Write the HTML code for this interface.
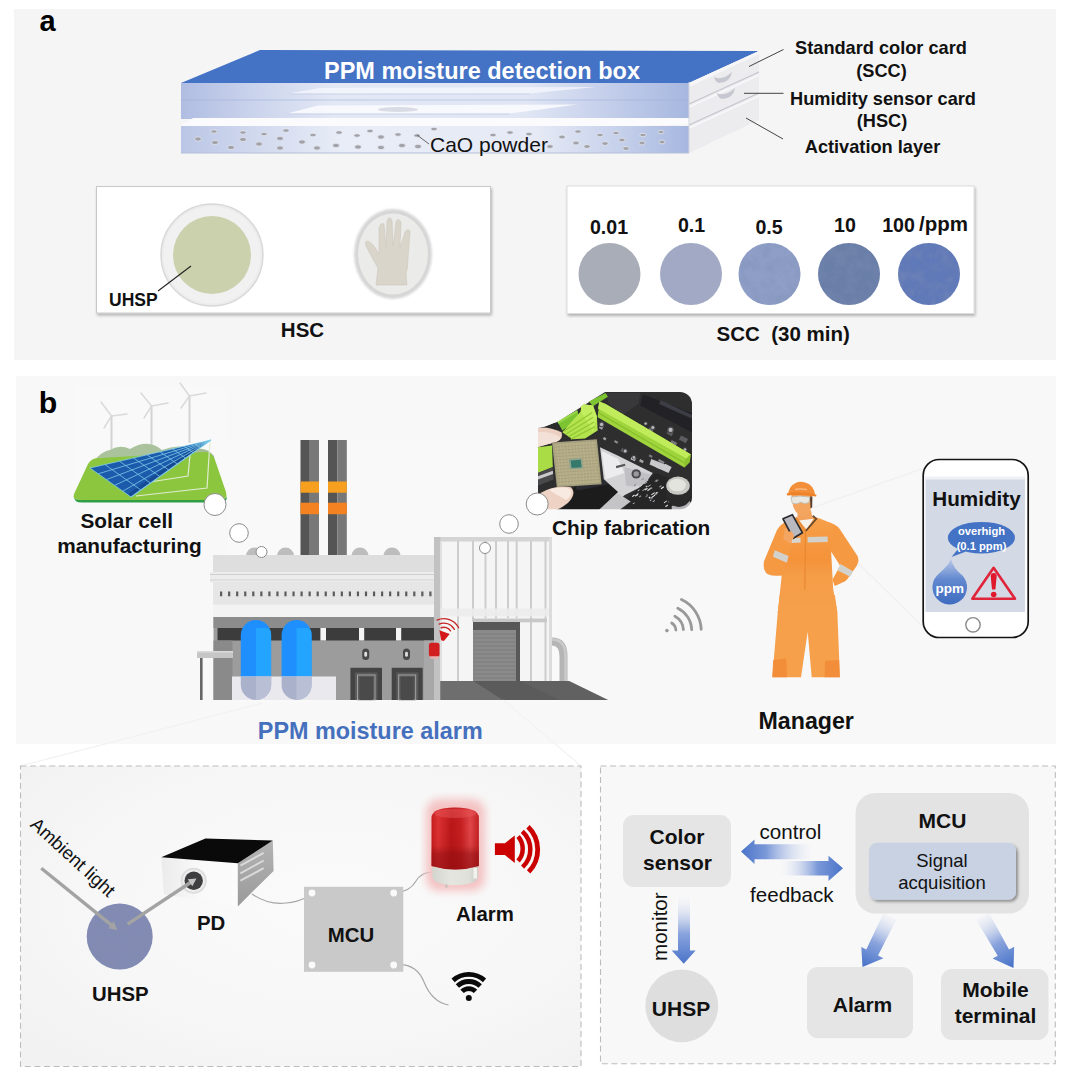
<!DOCTYPE html>
<html><head><meta charset="utf-8">
<style>
html,body{margin:0;padding:0;background:#fff;}
body{width:1080px;height:1081px;overflow:hidden;font-family:"Liberation Sans",sans-serif;}
svg{display:block}
text{font-family:"Liberation Sans",sans-serif;}
.b{font-weight:bold}
</style></head><body>
<svg width="1080" height="1081" viewBox="0 0 1080 1081">
<defs>
<radialGradient id="pbg" cx="50%" cy="50%" r="75%"><stop offset="0" stop-color="#fafafa"/><stop offset="1" stop-color="#efefef"/></radialGradient>
<linearGradient id="boxfront" x1="0" x2="1" y1="0" y2="0"><stop offset="0" stop-color="#b0bde2"/><stop offset="0.14" stop-color="#cad3ec"/><stop offset="0.3" stop-color="#e3e8f5"/><stop offset="0.68" stop-color="#e0e6f4"/><stop offset="0.85" stop-color="#c2cdea"/><stop offset="1" stop-color="#a6b7df"/></linearGradient>
<linearGradient id="boxlow" x1="0" x2="1" y1="0" y2="0"><stop offset="0" stop-color="#bac6e6"/><stop offset="0.14" stop-color="#d0d8ee"/><stop offset="0.32" stop-color="#e9edf7"/><stop offset="0.7" stop-color="#e6eaf6"/><stop offset="0.87" stop-color="#c4cfea"/><stop offset="1" stop-color="#a6b7df"/></linearGradient>
<filter id="sh" x="-5%" y="-5%" width="110%" height="115%"><feGaussianBlur in="SourceAlpha" stdDeviation="1.5"/><feOffset dx="1.2" dy="1.5"/><feComponentTransfer><feFuncA type="linear" slope="0.28"/></feComponentTransfer><feMerge><feMergeNode/><feMergeNode in="SourceGraphic"/></feMerge></filter>
<filter id="tex" x="0" y="0" width="100%" height="100%"><feTurbulence type="fractalNoise" baseFrequency="0.085" numOctaves="3" seed="3" result="n"/><feColorMatrix in="n" type="matrix" values="0 0 0 0 0.2  0 0 0 0 0.27  0 0 0 0 0.45  0 0 0 0.9 -0.36" result="d"/><feComposite in="d" in2="SourceGraphic" operator="in" result="dc"/><feMerge><feMergeNode in="SourceGraphic"/><feMergeNode in="dc"/></feMerge></filter>
<filter id="blur05"><feGaussianBlur stdDeviation="0.55"/></filter>
<filter id="blur1"><feGaussianBlur stdDeviation="1"/></filter>
<filter id="blur2"><feGaussianBlur stdDeviation="2.2"/></filter>
<filter id="blur4"><feGaussianBlur stdDeviation="4"/></filter>
</defs>

<!-- PANEL BACKGROUNDS -->
<rect x="14" y="9" width="1042" height="351" fill="#f5f5f5"/>
<rect x="16" y="376" width="1040" height="368" fill="#f8f8f8"/>
<!--PA_START--><g id="panelA">
<text x="39.5" y="31" class="b" font-size="29">a</text>
<!-- detection box -->
<polygon points="181,83 260,50 759,51 689,83" fill="#4472c4"/>
<rect x="181" y="83" width="508" height="36" fill="url(#boxfront)"/>
<line x1="181" y1="100" x2="689" y2="100" stroke="#9fb0d8" stroke-width="0.8" opacity="0.7"/>
<!-- inner trays -->
<polygon points="288.500,93.500 320,88 596,87 530,93.500" fill="#f8f9fd" opacity="0.700"/>
<polygon points="287,113.500 318,105.500 578,104.500 510,113.500" fill="#fafbfe" opacity="0.850"/>
<line x1="289" y1="94" x2="530" y2="94" stroke="#c3cbe2" stroke-width="0.700"/>
<line x1="287" y1="114" x2="510" y2="114" stroke="#c3cbe2" stroke-width="0.700"/>
<ellipse cx="398" cy="109.5" rx="20" ry="2.6" fill="#d9dce4"/>
<!-- white lid of activation layer -->
<polygon points="181,126 193,118 689,118 689,124 640,126" fill="#fbfbfd"/>
<rect x="181" y="126" width="508" height="27" fill="url(#boxlow)"/>
<line x1="181" y1="153" x2="689" y2="153" stroke="#b5bfd9" stroke-width="1"/>
<!-- powder dots -->
<g fill="#a2a3aa" stroke="#f2f4fa" stroke-width="0.900" stroke-opacity="0.700">
<ellipse cx="198" cy="139" rx="3.4" ry="2.15"/><ellipse cx="214" cy="131.500" rx="3.2" ry="1.75"/><ellipse cx="215" cy="142.500" rx="3.4" ry="2.15"/><ellipse cx="231" cy="147.500" rx="3.4" ry="2.15"/><ellipse cx="243" cy="132.500" rx="3.2" ry="1.75"/><ellipse cx="243" cy="139.500" rx="3.4" ry="2.15"/><ellipse cx="259" cy="144" rx="3.4" ry="2.15"/><ellipse cx="264" cy="134" rx="3.2" ry="1.75"/><ellipse cx="280" cy="138.500" rx="3.4" ry="2.15"/><ellipse cx="280" cy="148" rx="3.4" ry="2.15"/><ellipse cx="286" cy="130.500" rx="3.2" ry="1.75"/><ellipse cx="302" cy="142" rx="3.4" ry="2.15"/><ellipse cx="313" cy="135" rx="3.2" ry="1.75"/><ellipse cx="317" cy="148" rx="3.4" ry="2.15"/><ellipse cx="336" cy="145.500" rx="3.4" ry="2.15"/><ellipse cx="339" cy="132.500" rx="3.2" ry="1.75"/><ellipse cx="357" cy="135.500" rx="3.2" ry="1.75"/><ellipse cx="358" cy="147" rx="3.4" ry="2.15"/><ellipse cx="370" cy="131" rx="3.2" ry="1.75"/><ellipse cx="381" cy="137" rx="3.4" ry="2.15"/><ellipse cx="381" cy="147.500" rx="3.4" ry="2.15"/><ellipse cx="398" cy="134.500" rx="3.2" ry="1.75"/><ellipse cx="402" cy="145.500" rx="3.4" ry="2.15"/><ellipse cx="417" cy="135.500" rx="3.2" ry="1.75"/><ellipse cx="418" cy="146.500" rx="3.4" ry="2.15"/><ellipse cx="434" cy="129" rx="3.2" ry="1.75"/>
<ellipse cx="493" cy="135" rx="3.2" ry="1.75"/><ellipse cx="510" cy="132.500" rx="3.2" ry="1.75"/><ellipse cx="529" cy="134" rx="3.2" ry="1.75"/><ellipse cx="550" cy="146.500" rx="3.2" ry="1.95"/><ellipse cx="562" cy="137" rx="3.2" ry="1.95"/><ellipse cx="578" cy="131.500" rx="3.2" ry="1.75"/><ellipse cx="576" cy="143" rx="3.2" ry="1.95"/><ellipse cx="587" cy="146.500" rx="3.2" ry="1.95"/><ellipse cx="600" cy="135" rx="3.2" ry="1.75"/><ellipse cx="605" cy="143.500" rx="3.2" ry="1.95"/><ellipse cx="616" cy="133" rx="3.2" ry="1.75"/><ellipse cx="622" cy="140" rx="3.2" ry="1.95"/><ellipse cx="626" cy="148.500" rx="3.2" ry="1.95"/><ellipse cx="643" cy="135" rx="3.2" ry="1.75"/><ellipse cx="642" cy="143" rx="3.2" ry="1.95"/><ellipse cx="661" cy="132" rx="3.0" ry="1.75"/><ellipse cx="662" cy="142" rx="3.0" ry="1.95"/>
</g>
<!-- right side face -->
<polygon points="689,83 759,51 759,120 689,153" fill="#ececef"/>
<polygon points="689,83 759,51 759,54 689,87" fill="#f6f6f8"/>
<line x1="689" y1="104" x2="759" y2="72" stroke="#c4c4cc" stroke-width="1.2"/>
<line x1="689" y1="107" x2="759" y2="75" stroke="#f8f8fa" stroke-width="1.6"/>
<line x1="689" y1="125" x2="759" y2="93" stroke="#c4c4cc" stroke-width="1.2"/>
<line x1="689" y1="128" x2="759" y2="96" stroke="#f8f8fa" stroke-width="1.6"/>
<line x1="689" y1="82" x2="689" y2="153" stroke="#d4d6de" stroke-width="1"/>
<path d="M714,77 q8,4 18,-5 q-2,11 -13,11 q-4,-1 -5,-6z" fill="#c6c7d0"/>
<path d="M717,93 q8,4 18,-5 q-2,11 -13,11 q-4,-1 -5,-6z" fill="#c6c7d0"/>
<!-- title -->
<text x="482" y="79" class="b" font-size="23.5" fill="#fff" text-anchor="middle">PPM moisture detection box</text>
<line x1="417" y1="135" x2="429" y2="144" stroke="#555" stroke-width="0.9"/>
<text x="430" y="152" font-size="21" fill="#111">CaO powder</text>
<!-- labels right -->
<line x1="749" y1="66.500" x2="783.500" y2="49.500" stroke="#444" stroke-width="1"/>
<line x1="744" y1="93.300" x2="783.500" y2="93.300" stroke="#444" stroke-width="1"/>
<line x1="746" y1="118" x2="783" y2="139" stroke="#444" stroke-width="1"/>
<g class="b" font-size="18.2" text-anchor="middle" fill="#111">
<text x="881" y="54">Standard color card</text>
<text x="881.5" y="76.5">(SCC)</text>
<text x="883" y="105">Humidity sensor card</text>
<text x="882" y="127">(HSC)</text>
<text x="872.5" y="152.500">Activation layer</text>
</g>
<!-- HSC card -->
<rect x="96.500" y="186.500" width="394" height="126.500" fill="#fff" stroke="#c9c9c9" stroke-width="1" filter="url(#sh)"/>
<circle cx="212" cy="255" r="51" fill="#ececec" stroke="#d9d9d9" stroke-width="1.500" filter="url(#blur05)"/>
<circle cx="212" cy="255" r="48.500" fill="#f1f1f2"/>
<circle cx="212" cy="255" r="39" fill="#cad1ac"/>
<ellipse cx="393" cy="254" rx="39" ry="45" fill="#d6d6d6" filter="url(#blur1)"/>
<ellipse cx="393" cy="254" rx="35" ry="40.500" fill="#ebebea" filter="url(#blur05)"/>
<!-- glove -->
<path d="M376,285 L378,268 Q372,258 366,246 Q364,241 368,241 Q373,243 379,254 L379,229 Q380,222 384,224 L386,247 L387,221 Q389,215 392,220 L393,246 L396,222 Q398,217 401,222 L400,248 L405,232 Q407,228 410,231 L408,258 Q408,268 406,274 L407,285 Z" fill="#d9d5ca" stroke="#cdc8bc" stroke-width="0.600"/>
<line x1="158" y1="291" x2="191" y2="266" stroke="#222" stroke-width="1.1"/>
<text x="109" y="306" class="b" font-size="17.5" fill="#111">UHSP</text>
<text x="302.500" y="337" class="b" font-size="20.500" fill="#111" text-anchor="middle">HSC</text>
<!-- SCC card -->
<rect x="567" y="186" width="407" height="127.500" fill="#fff" stroke="#dcdcdc" stroke-width="1" filter="url(#sh)"/>
<circle cx="609.500" cy="274" r="31" fill="#a8adb8"/>
<circle cx="691" cy="274" r="31" fill="#a1a9c5"/>
<circle cx="769.500" cy="274" r="31" fill="#8e9ec6" filter="url(#tex)"/>
<circle cx="849" cy="274" r="31" fill="#6b7fa8" filter="url(#tex)"/>
<circle cx="929" cy="274" r="31" fill="#6079b8" filter="url(#tex)"/>
<g class="b" font-size="19.600" fill="#111" text-anchor="middle">
<text x="609" y="233.500">0.01</text>
<text x="691.500" y="231.500">0.1</text>
<text x="769" y="233.500">0.5</text>
<text x="845" y="232">10</text>
<text x="898.500" y="232">100</text>
<text x="943.500" y="231" font-size="20.500">/ppm</text>
</g>
<text x="716.500" y="341" class="b" font-size="20.500" fill="#111" xml:space="preserve">SCC  (30 min)</text>
</g>
<!--PA_END-->
<!--PB_START--><g id="panelB">
<text x="38.700" y="413.200" class="b" font-size="30.300">b</text>
<!-- faint watermark-ish light areas -->
<rect x="228" y="440" width="330" height="262" fill="#fafafa" opacity="0.6"/>
<!-- SOLAR SCENE -->
<g id="solar">
<rect x="76" y="386" width="150" height="118" fill="#f9f9f9" opacity="0.7"/>
<!-- turbines -->
<g stroke="#d3d3d3" stroke-width="2" stroke-linecap="round" fill="none">
<line x1="111.500" y1="416" x2="111.500" y2="458"/><line x1="151.500" y1="406" x2="151.500" y2="452"/><line x1="189.500" y1="396" x2="189.500" y2="442"/>
</g>
<g stroke="#dadada" stroke-width="1.500" stroke-linecap="round">
<path d="M111.500,416 L101,402 M111.500,416 L127,414 M111.500,416 L104,428"/>
<path d="M151.500,406 L141,393 M151.500,406 L168,403 M151.500,406 L144,418"/>
<path d="M189.500,396 L180,383 M189.500,396 L206,393 M189.500,396 L181,408"/>
</g>
<!-- hills -->
<path d="M88,470 Q98,452 110,450 Q120,444 130,449 Q148,438 162,450 Q176,444 190,448 Q206,446 216,470 Z" fill="#abc39d"/>
<path d="M190,452 Q204,444 214,456 L216,470 L190,470Z" fill="#a4bd96"/>
<!-- ground -->
<path d="M74,494 L88,464 Q92,457 100,458 L205,452 Q212,452 215,460 L226,492 Q228,500 220,500 L80,500 Q72,500 74,494 Z" fill="#8cc63f"/>
<path d="M74,497 Q74,502.500 82,502.500 L220,502.500 Q228,502.500 226.500,496 Q226,500 220,500 L80,500 Q74,500 74,497Z" fill="#2f9e44"/>
<!-- support frame -->
<g stroke="#dfeccf" stroke-width="1.2" fill="none">
<path d="M210,441 L207,488 L136,496"/>
<path d="M190,455 L188,476 L150,482"/>
</g>
<!-- panel -->
<polygon points="90,468 211,440 131,497" fill="#1c5bab"/>
<polygon points="211,440 131,497 128,494 200,443" fill="#164a94"/>
<g stroke="#86d4f0" stroke-width="0.800" fill="none" opacity="0.9">
<line x1="90" y1="468" x2="211" y2="440"/>
<line x1="90" y1="468" x2="131" y2="497"/>
<line x1="98.2" y1="473.8" x2="211" y2="440"/>
<line x1="106.4" y1="479.6" x2="211" y2="440"/>
<line x1="114.6" y1="485.4" x2="211" y2="440"/>
<line x1="122.8" y1="491.2" x2="211" y2="440"/>
<line x1="104.9" y1="464.5" x2="140.9" y2="490.0"/>
<line x1="119.5" y1="461.2" x2="150.5" y2="483.1"/>
<line x1="133.5" y1="457.9" x2="159.8" y2="476.5"/>
<line x1="147.1" y1="454.8" x2="168.8" y2="470.1"/>
<line x1="160.1" y1="451.8" x2="177.4" y2="464.0"/>
<line x1="172.5" y1="448.9" x2="185.6" y2="458.1"/>
<line x1="184.1" y1="446.2" x2="193.2" y2="452.7"/>
<line x1="194.8" y1="443.7" x2="200.3" y2="447.6"/>
<line x1="204.2" y1="441.6" x2="206.5" y2="443.2"/>
<line x1="131" y1="497" x2="211" y2="440" stroke-width="1.100"/>
</g>
</g>
<g class="b" font-size="20.800" fill="#111">
<text x="80.500" y="528">Solar cell</text>
<text x="57.300" y="553">manufacturing</text>
</g>

<!-- FACTORY -->
<g id="factory">
<!-- chimneys -->
<rect x="300.500" y="440" width="9.300" height="115" fill="#555"/><rect x="309.800" y="440" width="9.200" height="115" fill="#787878"/>
<rect x="328" y="440" width="9.500" height="115" fill="#555"/><rect x="337.500" y="440" width="9.300" height="115" fill="#787878"/>
<rect x="300.500" y="481.500" width="18.500" height="11.200" fill="#f7a020"/><rect x="328" y="481.500" width="18.800" height="11.200" fill="#f7a020"/>
<rect x="300.500" y="502.700" width="18.500" height="11.500" fill="#f58220"/><rect x="328" y="502.700" width="18.800" height="11.500" fill="#f58220"/>
<!-- roof bumps -->
<g fill="#bdbdbd"><path d="M246,556 a8.500,8.500 0 0 1 17,0z"/><path d="M277,556 a8.500,8.500 0 0 1 17,0z"/><path d="M351.500,556 a8.500,8.500 0 0 1 17,0z"/><path d="M383.500,556 a8.500,8.500 0 0 1 17,0z"/></g>
<!-- upper block -->
<rect x="213" y="555" width="221" height="50" fill="#dedede"/>
<rect x="210" y="572" width="224" height="10.500" fill="#ececec"/>
<line x1="210" y1="574.500" x2="434" y2="574.500" stroke="#cfcfcf" stroke-width="1"/>
<line x1="210" y1="580" x2="434" y2="580" stroke="#d2d2d2" stroke-width="1"/>
<rect x="213" y="582.500" width="221" height="22" fill="#e6e6e6"/>
<line x1="220" y1="593.800" x2="434" y2="593.800" stroke="#5c5c5c" stroke-width="4.800" stroke-dasharray="2.200 5.850"/>
<rect x="213" y="604.500" width="221" height="12.500" fill="#f3f3f3"/>
<!-- lower block -->
<rect x="213.500" y="617" width="220.500" height="83" fill="#9c9c9c"/>
<rect x="213.500" y="617" width="220.500" height="11" fill="#8c8c8c"/>
<rect x="217.500" y="628" width="216.500" height="12.500" fill="#3c3c3c"/>
<rect x="320.400" y="628" width="5.600" height="12.500" fill="#f4f4f4"/><rect x="359" y="628" width="5.200" height="12.500" fill="#f4f4f4"/><rect x="396" y="628" width="5.200" height="12.500" fill="#f4f4f4"/>
<rect x="213.500" y="640.500" width="19" height="59.500" fill="#8a8a8a"/>
<rect x="424" y="640.500" width="10" height="59.500" fill="#a8a8a8"/>
<!-- canopy -->
<rect x="197" y="651" width="36" height="7" fill="#c6c6c6"/><rect x="197" y="651" width="36" height="1.500" fill="#dadada"/>
<rect x="200" y="658" width="2.600" height="42" fill="#666"/>
<!-- tanks -->
<rect x="240.800" y="620" width="30.400" height="80" rx="15.200" fill="#1e8ffd"/>
<path d="M256,628 h10 a5,5 0 0 1 5,5 v52 a15,15 0 0 1 -15,15 z" fill="#22a6ff" opacity="0.9"/>
<rect x="281.600" y="620" width="30" height="80" rx="15" fill="#1e8ffd"/>
<path d="M296.500,628 h10 a5,5 0 0 1 5,5 v52 a15,15 0 0 1 -15,15 z" fill="#22a6ff" opacity="0.9"/>
<rect x="232" y="676.500" width="104" height="23.500" fill="#e9e9ee"/>
<path d="M240.800,676.500 h30.400 v8.300 a15.200,15.200 0 0 1 -30.400,0z" fill="#aab2cb"/><path d="M256,676.500 h15.200 v8.300 a15.200,15.200 0 0 1 -15.200,15.200z" fill="#b9c0d6"/>
<path d="M281.600,676.500 h30 v8.500 a15,15 0 0 1 -30,0z" fill="#aab2cb"/><path d="M296.500,676.500 h15.100 v8.500 a15,15 0 0 1 -15.100,15z" fill="#b9c0d6"/>
<!-- doors -->
<rect x="350.400" y="667.800" width="31.600" height="32.200" fill="#444"/><rect x="355" y="672.500" width="22.500" height="27.500" fill="#5a5a5a"/><rect x="357.500" y="675" width="17.500" height="25" fill="none" stroke="#aaa" stroke-width="0.9"/><rect x="359.500" y="677" width="13.500" height="23" fill="#4a4a4a"/>
<rect x="391.700" y="667.800" width="31" height="32.200" fill="#444"/><rect x="396.300" y="672.500" width="22" height="27.500" fill="#5a5a5a"/><rect x="398.700" y="675" width="17" height="25" fill="none" stroke="#aaa" stroke-width="0.9"/><rect x="400.700" y="677" width="13" height="23" fill="#4a4a4a"/>
<!-- lamps -->
<rect x="362.200" y="648.500" width="7" height="11.500" rx="3.500" fill="#484848"/><rect x="364.300" y="651.800" width="2.800" height="5" rx="1.400" fill="#e0e0e0"/>
<rect x="403" y="648.500" width="7" height="11.500" rx="3.500" fill="#484848"/><rect x="405.100" y="651.800" width="2.800" height="5" rx="1.400" fill="#e0e0e0"/>
<!-- right building -->
<rect x="434" y="537" width="118" height="144" fill="#f5f5f5"/>
<rect x="434" y="537" width="118" height="4.500" fill="#d4d4d4"/>
<rect x="434" y="537" width="6.500" height="163" fill="#c2c2c2"/>
<g stroke="#cdcdcd" stroke-width="2">
<line x1="458" y1="541" x2="458" y2="681"/><line x1="473" y1="541" x2="473" y2="622"/><line x1="485.500" y1="541" x2="485.500" y2="618"/><line x1="496" y1="541" x2="496" y2="618"/><line x1="508" y1="541" x2="508" y2="618"/><line x1="516.700" y1="541" x2="516.700" y2="618"/><line x1="531" y1="541" x2="531" y2="681"/><line x1="545.500" y1="541" x2="545.500" y2="681"/>
</g>
<line x1="441" y1="541" x2="441" y2="681" stroke="#e0e0e0" stroke-width="2"/>
<rect x="440.500" y="608.500" width="111.500" height="8" fill="#ececec" opacity="0.9"/>
<rect x="473" y="618.500" width="74" height="3.800" fill="#c8c8c8"/>
<rect x="549" y="537" width="3" height="144" fill="#dcdcdc"/>
<!-- garage -->
<rect x="473" y="622" width="47" height="59" fill="#585858"/>
<rect x="473" y="630" width="43" height="51" fill="#8a8a8a"/>
<g stroke="#7a7a7a" stroke-width="0.8"><line x1="473" y1="634" x2="516" y2="634"/><line x1="473" y1="638" x2="516" y2="638"/><line x1="473" y1="642" x2="516" y2="642"/><line x1="473" y1="646" x2="516" y2="646"/><line x1="473" y1="650" x2="516" y2="650"/><line x1="473" y1="654" x2="516" y2="654"/><line x1="473" y1="658" x2="516" y2="658"/><line x1="473" y1="662" x2="516" y2="662"/><line x1="473" y1="666" x2="516" y2="666"/><line x1="473" y1="670" x2="516" y2="670"/><line x1="473" y1="674" x2="516" y2="674"/><line x1="473" y1="678" x2="516" y2="678"/></g>
<!-- pipe -->
<path d="M552,641.500 Q563.500,641.500 563.500,656 L563.500,681" fill="none" stroke="#b5b5b5" stroke-width="8"/>
<path d="M552,639.500 Q565.500,639.500 565.500,656 L565.500,681" fill="none" stroke="#cacaca" stroke-width="2.500"/>
<!-- ramp -->
<polygon points="440.500,681 569,681 608,700 440.500,700" fill="#5b5b5b"/>
<polygon points="440.500,681 473,681 503,700 440.500,700" fill="#6e6e6e"/>
<polygon points="520,681 569,681 608,700 560,700" fill="#666" opacity="0.6"/>
<!-- alarm on wall -->
<rect x="428.900" y="642.800" width="10.600" height="14" rx="2.500" fill="#d21e1e"/>
<rect x="430.200" y="656.300" width="8" height="2.400" fill="#e9b0b0"/>
<polygon points="441.100,640.300 443.900,641.100 449.700,633.900 439.400,630.300" fill="#d41818"/>
<g fill="none" stroke="#c62424" stroke-width="1.300" stroke-linecap="round">
<path d="M441.0,627.8 A7.8,7.8 0 0 1 450.5,630.9"/>
<path d="M439.1,624.1 A11.9,11.9 0 0 1 454.4,629.4"/>
<path d="M437.0,620.1 A16.4,16.4 0 0 1 458.6,627.8"/>
</g>
</g>
<text x="257.800" y="738.800" class="b" font-size="23.400" fill="#4570be">PPM moisture alarm</text>
<!-- CHIP PHOTO -->
<g id="chip">
<clipPath id="chipclip"><rect x="538" y="392" width="154" height="117.300" rx="12"/></clipPath>
<g clip-path="url(#chipclip)"><g filter="url(#blur05)">
<rect x="538" y="392" width="154" height="118" fill="#2d2d2f"/>
<polygon points="605.6,392.9 640.2,392.9 638.6,403.9 622.9,414.9 608.7,403.9" fill="#38383b"/>
<polygon points="643.3,394.4 692.1,413.3 692.1,432.2 640.2,405.5" fill="#232325"/>
<polygon points="660.6,400.0 692.1,414.9 692.1,418.8 659.1,403.9" fill="#3c3c44"/>
<rect x="627.6" y="418.1" width="4.7" height="2.8" fill="#8b8b8f" transform="rotate(28 627.6 418.1)"/>
<rect x="640.2" y="424.4" width="5.4" height="3.1" fill="#a5a5a8" transform="rotate(28 640.2 424.4)"/>
<rect x="649.6" y="427.5" width="4.4" height="3.5" fill="#77777b" transform="rotate(28 649.6 427.5)"/>
<rect x="668.5" y="429.9" width="5.7" height="4.1" fill="#5d5d61" transform="rotate(28 668.5 429.9)"/>
<rect x="681.1" y="435.4" width="7.9" height="4.7" fill="#5d5d61" transform="rotate(28 681.1 435.4)"/>
<rect x="660.6" y="436.9" width="4.7" height="2.8" fill="#8b8b8f" transform="rotate(28 660.6 436.9)"/>
<rect x="671.7" y="440.1" width="6.3" height="2.8" fill="#77777b" transform="rotate(28 671.7 440.1)"/>
<rect x="640.2" y="436.9" width="3.8" height="2.5" fill="#77777b" transform="rotate(28 640.2 436.9)"/>
<rect x="630.7" y="430.6" width="3.5" height="2.5" fill="#77777b" transform="rotate(28 630.7 430.6)"/>
<rect x="622.1" y="448.0" width="4.1" height="3.5" fill="#5d5d61" transform="rotate(28 622.1 448.0)"/>
<rect x="632.3" y="455.8" width="4.7" height="3.8" fill="#c4c4c7" transform="rotate(28 632.3 455.8)"/>
<rect x="640.2" y="459.0" width="4.1" height="2.5" fill="#a5a5a8" transform="rotate(28 640.2 459.0)"/>
<rect x="649.6" y="454.3" width="3.5" height="2.2" fill="#77777b" transform="rotate(28 649.6 454.3)"/>
<rect x="659.1" y="459.0" width="6.3" height="2.2" fill="#8b8b8f" transform="rotate(28 659.1 459.0)"/>
<rect x="665.4" y="463.7" width="5.7" height="1.9" fill="#c4c4c7" transform="rotate(28 665.4 463.7)"/>
<rect x="655.9" y="465.3" width="4.7" height="1.6" fill="#c4c4c7" transform="rotate(28 655.9 465.3)"/>
<rect x="600.8" y="424.4" width="3.5" height="4.1" fill="#a5a5a8" transform="rotate(28 600.8 424.4)"/>
<rect x="604.0" y="436.9" width="2.8" height="2.5" fill="#a5a5a8" transform="rotate(28 604.0 436.9)"/>
<rect x="615.0" y="440.1" width="3.8" height="2.2" fill="#8b8b8f" transform="rotate(28 615.0 440.1)"/>
<circle cx="670.6" cy="429.9" r="3.5" fill="#4a4a4e"/><circle cx="670.6" cy="429.9" r="2.1" fill="#b9b9bc"/>
<circle cx="652.8" cy="427.5" r="2.5" fill="#4a4a4e"/><circle cx="652.8" cy="427.5" r="1.5" fill="#b9b9bc"/>
<circle cx="601.6" cy="424.4" r="2.8" fill="#4a4a4e"/><circle cx="601.6" cy="424.4" r="1.7" fill="#b9b9bc"/>
<circle cx="625.2" cy="451.1" r="2.5" fill="#4a4a4e"/><circle cx="625.2" cy="451.1" r="1.5" fill="#b9b9bc"/>
<circle cx="633.9" cy="457.4" r="2.2" fill="#4a4a4e"/><circle cx="633.9" cy="457.4" r="1.3" fill="#b9b9bc"/>
<circle cx="645.7" cy="423.6" r="2.0" fill="#4a4a4e"/><circle cx="645.7" cy="423.6" r="1.2" fill="#b9b9bc"/>
<circle cx="685.0" cy="449.5" r="2.2" fill="#4a4a4e"/><circle cx="685.0" cy="449.5" r="1.3" fill="#b9b9bc"/>
<polygon points="536.3,391.3 606.3,391.3 558.3,421.5 545.7,426.2 536.3,428.3" fill="#f3f3f3"/>
<polygon points="545.0,426.7 555.2,422.5 561.5,429.1 548.9,432.2" fill="#2a2a2c"/>
<polygon points="557.5,421.5 577.2,410.2 579.6,418.8 562.3,430.6" fill="#7cc433"/>
<polygon points="589.0,401.5 605.6,392.9 607.9,396.8 593.0,406.2" fill="#7cc433"/>
<polygon points="557.5,421.5 577.2,410.2 577.7,412.1 558.3,423.7" fill="#9bd84a"/>
<polygon points="562.3,432.2 580.4,411.8 581.9,403.9 593.0,405.5 596.9,416.5 597.7,430.6 585.1,438.5 572.5,439.3" fill="#b4e34e"/>
<polygon points="580.4,403.9 593.0,405.5 596.9,416.5 593.0,432.2 581.9,413.3" fill="#c3ee5e"/>
<line x1="563.8" y1="431.4" x2="592.2" y2="412.5" stroke="#93c936" stroke-width="1.300"/>
<line x1="566.2" y1="434.0" x2="593.1" y2="417.3" stroke="#93c936" stroke-width="1.300"/>
<line x1="568.6" y1="436.6" x2="594.1" y2="422.0" stroke="#93c936" stroke-width="1.300"/>
<line x1="570.9" y1="439.2" x2="595.0" y2="426.7" stroke="#93c936" stroke-width="1.300"/>
<polygon points="599.3,401.5 605.6,403.9 690.6,454.3 689.8,462.1 684.3,467.6 597.7,417.3" fill="#9fd43c"/>
<polygon points="599.3,401.5 605.6,403.9 690.6,454.3 687.4,459.0 598.0,408.6" fill="#c0ec5c"/>
<line x1="598.6" y1="413.0" x2="685.8" y2="463.7" stroke="#86bd2c" stroke-width="1.200"/>
<polygon points="690.6,454.3 689.8,462.1 684.3,467.6 685.0,459.8" fill="#8cc42f"/>
<polygon points="537.9,447.2 552.0,445.6 552.8,466.9 537.9,473.1" fill="#a9dc45"/>
<polygon points="537.9,473.1 552.8,466.9 553.6,479.4 537.9,485.7" fill="#48484b"/>
<polygon points="537.9,476.3 552.8,470.8 553.1,473.9 537.9,479.4" fill="#c9c9cc"/>
<polygon points="600.0,447.2 618.1,455.8 652.8,473.1 643.3,485.7 624.4,495.2 615.0,504.6 599.3,509.4 604.0,481.0" fill="#d3d3d6"/>
<polygon points="601.6,451.1 618.1,459.0 624.4,473.1 605.6,479.4" fill="#ececee"/>
<polygon points="624.4,466.9 651.2,474.7 640.2,487.3 626.0,485.7" fill="#c0c0c4"/>
<circle cx="636.2" cy="473.9" r="4.7" fill="#4b4b4f"/><circle cx="636.2" cy="473.9" r="2.7" fill="#9a9a9e"/>
<rect x="615.8" y="466.1" width="9.4" height="2.2" fill="#555" transform="rotate(-15 615.8 466.1)"/>
<polygon points="627.6,498.3 655.9,473.1 671.7,479.4 692.1,495.2 692.1,510.9 624.4,510.9" fill="#262628"/>
<rect x="644.0" y="483.7" width="3.5" height="0.7" fill="#d9d9dc" transform="rotate(-35 644.0 483.7)"/>
<rect x="645.7" y="481.1" width="3.0" height="0.7" fill="#efefef" transform="rotate(-35 645.7 481.1)"/>
<rect x="647.9" y="486.3" width="3.2" height="0.7" fill="#d9d9dc" transform="rotate(-35 647.9 486.3)"/>
<rect x="654.6" y="481.2" width="3.3" height="0.7" fill="#bdbdc0" transform="rotate(-35 654.6 481.2)"/>
<rect x="632.6" y="503.8" width="2.3" height="0.7" fill="#d9d9dc" transform="rotate(-35 632.6 503.8)"/>
<rect x="654.1" y="495.3" width="3.6" height="0.7" fill="#bdbdc0" transform="rotate(-35 654.1 495.3)"/>
<rect x="646.0" y="495.0" width="1.5" height="0.7" fill="#bdbdc0" transform="rotate(-35 646.0 495.0)"/>
<rect x="651.1" y="494.5" width="4.0" height="1.0" fill="#efefef" transform="rotate(-35 651.1 494.5)"/>
<rect x="645.5" y="486.5" width="1.9" height="1.2" fill="#d9d9dc" transform="rotate(-35 645.5 486.5)"/>
<rect x="654.2" y="494.3" width="4.3" height="1.2" fill="#8d8d90" transform="rotate(-35 654.2 494.3)"/>
<rect x="655.7" y="481.5" width="3.0" height="0.8" fill="#8d8d90" transform="rotate(-35 655.7 481.5)"/>
<rect x="637.0" y="493.3" width="1.4" height="1.2" fill="#8d8d90" transform="rotate(-35 637.0 493.3)"/>
<rect x="644.7" y="489.4" width="3.0" height="1.3" fill="#d9d9dc" transform="rotate(-35 644.7 489.4)"/>
<rect x="665.1" y="506.2" width="2.9" height="1.2" fill="#d9d9dc" transform="rotate(-35 665.1 506.2)"/>
<rect x="660.7" y="488.2" width="3.3" height="1.2" fill="#efefef" transform="rotate(-35 660.7 488.2)"/>
<rect x="642.4" y="490.4" width="3.6" height="0.6" fill="#efefef" transform="rotate(-35 642.4 490.4)"/>
<rect x="645.3" y="496.8" width="3.0" height="0.8" fill="#8d8d90" transform="rotate(-35 645.3 496.8)"/>
<rect x="636.0" y="486.5" width="2.6" height="1.3" fill="#d9d9dc" transform="rotate(-35 636.0 486.5)"/>
<rect x="637.5" y="490.8" width="2.2" height="0.7" fill="#efefef" transform="rotate(-35 637.5 490.8)"/>
<rect x="647.7" y="489.6" width="4.3" height="1.4" fill="#bdbdc0" transform="rotate(-35 647.7 489.6)"/>
<rect x="634.1" y="483.7" width="3.5" height="0.6" fill="#bdbdc0" transform="rotate(-35 634.1 483.7)"/>
<rect x="641.5" y="479.6" width="2.7" height="0.9" fill="#8d8d90" transform="rotate(-35 641.5 479.6)"/>
<rect x="651.8" y="496.9" width="3.6" height="0.7" fill="#efefef" transform="rotate(-35 651.8 496.9)"/>
<rect x="647.0" y="490.6" width="2.9" height="0.9" fill="#bdbdc0" transform="rotate(-35 647.0 490.6)"/>
<rect x="633.5" y="485.4" width="1.8" height="0.9" fill="#d9d9dc" transform="rotate(-35 633.5 485.4)"/>
<rect x="634.9" y="495.5" width="3.1" height="1.4" fill="#d9d9dc" transform="rotate(-35 634.9 495.5)"/>
<rect x="633.6" y="485.3" width="2.6" height="1.1" fill="#8d8d90" transform="rotate(-35 633.6 485.3)"/>
<rect x="655.4" y="492.9" width="1.7" height="1.0" fill="#efefef" transform="rotate(-35 655.4 492.9)"/>
<rect x="650.4" y="488.3" width="1.8" height="1.2" fill="#8d8d90" transform="rotate(-35 650.4 488.3)"/>
<rect x="650.3" y="499.1" width="3.0" height="0.8" fill="#8d8d90" transform="rotate(-35 650.3 499.1)"/>
<rect x="636.7" y="494.8" width="1.4" height="1.0" fill="#d9d9dc" transform="rotate(-35 636.7 494.8)"/>
<rect x="659.2" y="486.8" width="2.5" height="0.8" fill="#bdbdc0" transform="rotate(-35 659.2 486.8)"/>
<rect x="652.5" y="501.5" width="2.4" height="0.8" fill="#bdbdc0" transform="rotate(-35 652.5 501.5)"/>
<rect x="663.7" y="502.6" width="3.8" height="0.8" fill="#efefef" transform="rotate(-35 663.7 502.6)"/>
<rect x="645.3" y="480.3" width="1.4" height="0.8" fill="#8d8d90" transform="rotate(-35 645.3 480.3)"/>
<rect x="638.7" y="496.6" width="2.5" height="1.3" fill="#8d8d90" transform="rotate(-35 638.7 496.6)"/>
<rect x="639.8" y="485.9" width="1.9" height="0.8" fill="#d9d9dc" transform="rotate(-35 639.8 485.9)"/>
<rect x="650.4" y="497.9" width="4.0" height="0.7" fill="#d9d9dc" transform="rotate(-35 650.4 497.9)"/>
<rect x="668.0" y="501.6" width="3.9" height="1.0" fill="#bdbdc0" transform="rotate(-35 668.0 501.6)"/>
<rect x="648.5" y="497.5" width="1.6" height="1.4" fill="#efefef" transform="rotate(-35 648.5 497.5)"/>
<rect x="649.7" y="500.5" width="1.6" height="0.8" fill="#bdbdc0" transform="rotate(-35 649.7 500.5)"/>
<rect x="631.9" y="496.2" width="2.9" height="1.1" fill="#efefef" transform="rotate(-35 631.9 496.2)"/>
<polygon points="651.2,459.0 671.7,466.9 668.5,473.1 649.6,464.5" fill="#c9c9cc"/>
<polygon points="599.3,507.8 618.1,493.6 630.7,501.5 618.1,510.9 599.3,510.9" fill="#c4c4c7"/>
<polygon points="671.7,506.2 687.4,498.3 692.1,504.6 692.1,510.9 671.7,510.9" fill="#b4b4b8"/>
<ellipse cx="678.8" cy="492.0" rx="13.4" ry="15.0" fill="#2a2a2c"/>
<ellipse cx="678.0" cy="485.7" rx="11.8" ry="9.1" fill="#c9c9c4"/>
<ellipse cx="677.2" cy="485.0" rx="8.7" ry="6.3" fill="#e4e4df"/>
<polygon points="560.7,510.9 574.9,485.7 604.0,479.4 618.1,492.0 597.7,510.9" fill="#1d1d1f"/>
<polygon points="574.9,485.7 604.0,479.4 608.7,484.2 577.2,490.5" fill="#2c2c30"/>
<path d="M537.1,427.8 Q548.9,426.2 561.5,432.2 Q563.8,438.5 556.8,441.7 L537.1,447.2 Z" fill="#ecd0c2"/>
<path d="M537.1,432.2 Q548.9,430.6 559.9,436.9 Q561.5,440.1 555.2,442.0 L537.1,447.2 Z" fill="#f3e0d6"/>
<path d="M539.4,493.6 Q555.2,484.2 570.9,487.3 Q577.2,493.6 567.8,503.1 Q559.9,509.4 553.6,510.9 L539.4,510.9 Z" fill="#eed2c4"/>
<path d="M548.9,489.7 Q561.5,485.7 570.1,488.9 Q574.1,493.6 566.2,499.9 Q556.8,495.2 548.9,489.7 Z" fill="#f8e9e1"/>
<polygon points="552.0,442.5 596.9,439.3 601.6,484.2 556.8,487.3" fill="#a39d7d"/>
<polygon points="553.6,444.0 595.8,441.2 600.2,482.6 558.0,485.4" fill="#b3ab86"/>
<line x1="553.9" y1="447.2" x2="596.1" y2="444.4" stroke="#9a9270" stroke-width="0.500"/>
<line x1="554.3" y1="450.4" x2="596.5" y2="447.6" stroke="#9a9270" stroke-width="0.500"/>
<line x1="554.6" y1="453.6" x2="596.8" y2="450.7" stroke="#9a9270" stroke-width="0.500"/>
<line x1="554.9" y1="456.7" x2="597.1" y2="453.9" stroke="#9a9270" stroke-width="0.500"/>
<line x1="555.3" y1="459.9" x2="597.4" y2="457.1" stroke="#9a9270" stroke-width="0.500"/>
<line x1="555.6" y1="463.1" x2="597.8" y2="460.3" stroke="#9a9270" stroke-width="0.500"/>
<line x1="555.9" y1="466.3" x2="598.1" y2="463.5" stroke="#9a9270" stroke-width="0.500"/>
<line x1="556.3" y1="469.5" x2="598.4" y2="466.6" stroke="#9a9270" stroke-width="0.500"/>
<line x1="556.6" y1="472.6" x2="598.8" y2="469.8" stroke="#9a9270" stroke-width="0.500"/>
<line x1="556.9" y1="475.8" x2="599.1" y2="473.0" stroke="#9a9270" stroke-width="0.500"/>
<line x1="557.2" y1="479.0" x2="599.4" y2="476.2" stroke="#9a9270" stroke-width="0.500"/>
<line x1="557.6" y1="482.2" x2="599.8" y2="479.4" stroke="#9a9270" stroke-width="0.500"/>
<line x1="556.9" y1="443.8" x2="561.3" y2="485.2" stroke="#c2ba96" stroke-width="0.400"/>
<line x1="560.1" y1="443.6" x2="564.5" y2="485.0" stroke="#c2ba96" stroke-width="0.400"/>
<line x1="563.3" y1="443.4" x2="567.7" y2="484.8" stroke="#c2ba96" stroke-width="0.400"/>
<line x1="566.6" y1="443.1" x2="571.0" y2="484.5" stroke="#c2ba96" stroke-width="0.400"/>
<line x1="569.8" y1="442.9" x2="574.2" y2="484.3" stroke="#c2ba96" stroke-width="0.400"/>
<line x1="573.1" y1="442.7" x2="577.5" y2="484.1" stroke="#c2ba96" stroke-width="0.400"/>
<line x1="576.3" y1="442.5" x2="580.7" y2="483.9" stroke="#c2ba96" stroke-width="0.400"/>
<line x1="579.6" y1="442.3" x2="584.0" y2="483.7" stroke="#c2ba96" stroke-width="0.400"/>
<line x1="582.8" y1="442.0" x2="587.2" y2="483.4" stroke="#c2ba96" stroke-width="0.400"/>
<line x1="586.0" y1="441.8" x2="590.4" y2="483.2" stroke="#c2ba96" stroke-width="0.400"/>
<line x1="589.3" y1="441.6" x2="593.7" y2="483.0" stroke="#c2ba96" stroke-width="0.400"/>
<line x1="592.5" y1="441.4" x2="596.9" y2="482.8" stroke="#c2ba96" stroke-width="0.400"/>
<polygon points="568.6,459.0 581.9,458.0 583.2,468.4 569.7,469.4" fill="#8fa38e"/>
<polygon points="570.6,460.6 580.7,459.8 581.6,467.2 571.6,468.0" fill="#35796c"/>
</g></g>
<polygon points="535,389 606.4,389 558.3,421.200 545.700,426.200 535,428.500" fill="#f8f8f8"/>
</g>
<!-- bubbles -->
<g fill="#fff" stroke="#8c8c8c" stroke-width="1">
<circle cx="215" cy="504.500" r="11"/><circle cx="239" cy="533" r="9.300"/><circle cx="261.500" cy="552" r="5.500"/>
<circle cx="537.200" cy="504" r="11"/><circle cx="509" cy="524" r="9.300"/><circle cx="485" cy="548" r="5.500"/>
</g>
<text x="552" y="535" class="b" font-size="20.800" fill="#111">Chip fabrication</text>

<!-- WIFI gray -->
<g fill="none" stroke="#999" stroke-width="2.800" stroke-linecap="round">
<path d="M671.7,623.0 A9,9 0 0 1 675.9,630.0"/>
<path d="M674.9,616.2 A16.5,16.5 0 0 1 683.4,629.7"/>
<path d="M677.8,608.3 A24.8,24.8 0 0 1 691.7,629.7"/>
<path d="M681.4,599.5 A34.3,34.3 0 0 1 701.2,629.4"/>
</g>
<circle cx="666.900" cy="630.600" r="1.800" fill="#999"/>

<!-- faint lines to phone -->
<line x1="812" y1="508" x2="924" y2="468" stroke="#f1f1f1" stroke-width="1.400"/>
<line x1="857" y1="562" x2="924" y2="628" stroke="#f1f1f1" stroke-width="1.400"/>
<g id="manager">
<defs><linearGradient id="mbody" x1="0" x2="0" y1="0" y2="1"><stop offset="0" stop-color="#f7a04a"/><stop offset="0.45" stop-color="#f4933a"/><stop offset="0.6" stop-color="#f59c47"/><stop offset="1" stop-color="#f6a04c"/></linearGradient></defs>
<path d="M779.8,594.9 L834.9,594.9 L837.4,612.9 L839.9,677.3 L811.7,677.3 L807.7,631.7 L801.0,677.3 L772.3,677.3 L777.7,612.9 Z" fill="#f6a04c"/>
<polygon points="773.1,659.9 786.2,658.6 787.0,677.3 772.3,677.3" fill="#f18a34" opacity="0.800"/>
<polygon points="825.1,660.7 839.1,659.9 839.9,677.3 824.6,677.3" fill="#f18a34" opacity="0.800"/>
<path d="M824.9,521.3 Q836.0,523.4 840.2,529.7 L857.5,556.0 Q859.6,560.2 856.8,565.7 L847.1,579.6 L834.6,585.8 L832.5,579.6 L840.2,565.7 L831.2,551.8 Z" fill="#f59a42"/>
<path d="M795.8,517.9 L813.1,516.5 Q827.7,520.6 833.2,525.5 L831.2,553.2 L833.2,589.3 L837.4,612.9 L777.7,612.9 L781.6,576.8 L779.8,528.3 Z" fill="url(#mbody)"/>
<path d="M795.8,517.9 Q781.9,521.3 777.1,529.7 L763.9,561.6 Q762.5,569.9 767.3,574.0 Q773.6,576.8 781.9,575.4 L791.6,544.9 L795.8,535.2 Z" fill="#f59a42"/>
<path d="M784.7,528.3 L795.8,525.5 L798.6,535.2 L790.2,543.5 L783.3,539.4 Z" fill="#f4a562"/>
<line x1="805.5" y1="531.0" x2="804.8" y2="589.3" stroke="#e8852c" stroke-width="1"/>
<polygon points="797.9,510.2 811.0,510.2 812.4,517.9 805.5,525.5 797.2,518.6" fill="#f2a25c"/>
<polygon points="798.8,520.6 813.5,518.8 806.6,529.4" fill="#f6f2ee"/>
<path d="M812.7,515.8 L816.3,518.8 L805.8,531.0" fill="none" stroke="#6b4a2e" stroke-width="1.800"/>
<path d="M795.8,517.2 L799.9,522.7 L804.8,531.0" fill="none" stroke="#e58a36" stroke-width="1.500"/>
<path d="M791.6,495.0 L811.7,495.0 L811.3,507.5 Q808.3,515.8 802.7,516.5 Q795.8,514.4 793.0,506.1 Z" fill="#f4a660"/>
<path d="M809.9,496.4 L812.4,496.4 L812.2,507.5 L810.5,508.2 Z" fill="#5a4030"/>
<path d="M790.9,497.1 Q799.9,495.0 809.9,497.1 L809.0,502.6 Q804.1,504.7 801.1,502.2 Q796.5,505.0 792.3,503.3 Z" fill="#e9e7e2" stroke="#b9b6ae" stroke-width="0.800"/>
<path d="M788.2,494.3 Q789.5,482.5 801.3,481.7 Q813.1,482.5 815.2,495.0 Z" fill="#f28f38"/>
<path d="M786.8,493.3 Q801.3,490.8 816.6,494.7 L816.0,496.4 Q801.3,493.9 787.2,495.5 Z" fill="#ee8228"/>
<path d="M795.1,489.4 Q801.3,488.3 806.9,489.7" fill="none" stroke="#f9c08a" stroke-width="1.200"/>
<polygon points="791.6,538.3 800.6,537.7 800.6,542.4 791.6,543.0" fill="#d9d6d0"/>
<polygon points="807.6,536.9 827.7,536.6 827.7,542.1 807.6,542.4" fill="#d3d1cc"/>
<polygon points="774.7,550.2 788.6,556.0 786.9,562.7 772.9,556.8" fill="#d3d1cc"/>
<polygon points="840.5,564.1 852.9,571.3 850.2,576.8 837.4,570.2" fill="#d3d1cc"/>
<polygon points="836.7,573.4 847.1,577.5 845.7,581.0 835.3,585.8 833.2,581.0" fill="#f59a42"/>
<polygon points="783.0,518.8 792.3,514.7 802.4,532.7 793.3,538.3" fill="#b9bac0" stroke="#2c2c30" stroke-width="1.700" stroke-linejoin="round"/>
<polygon points="784.7,532.4 791.6,531.0 794.4,536.6 790.9,542.1 784.7,539.4" fill="#f4a562"/>
</g>
<text x="758.500" y="729.300" class="b" font-size="23.200" fill="#111">Manager</text>
<g id="phone">
<defs><linearGradient id="dropg" x1="0" x2="0" y1="0" y2="1"><stop offset="0" stop-color="#b9c8e8"/><stop offset="0.45" stop-color="#6288cf"/><stop offset="1" stop-color="#3f6cc0"/></linearGradient></defs>
<rect x="923.200" y="459.500" width="105" height="178" rx="16" fill="#fff" stroke="#141414" stroke-width="1.700"/>
<rect x="925.500" y="479" width="99.500" height="133" fill="#d4dae5"/>
<rect x="925.500" y="476.500" width="99.500" height="3" fill="#eef0f5"/>
<text x="976.500" y="505.500" class="b" font-size="20.700" fill="#111" text-anchor="middle">Humidity</text>
<path d="M958,549 L951.500,557 L966,551.500 Z" fill="#4472c4"/>
<ellipse cx="981.400" cy="537.700" rx="33.600" ry="15.800" fill="#4472c4"/>
<text x="981.500" y="534.500" class="b" font-size="11.200" fill="#fff" text-anchor="middle">overhigh</text>
<text x="981.500" y="549.500" class="b" font-size="11.200" fill="#fff" text-anchor="middle">(0.1 ppm)</text>
<path d="M951,559 Q953,568 962.500,575.500 A17.300,17.300 0 1 1 938.500,574 Q948,566 951,559 Z" fill="url(#dropg)"/>
<text x="949.800" y="592.500" class="b" font-size="13.500" fill="#fff" text-anchor="middle">ppm</text>
<path d="M993.600,567.800 L1015,598.800 L972.300,598.800 Z" fill="none" stroke="#e0243a" stroke-width="2.600" stroke-linejoin="round"/>
<path d="M990.700,576 a3,3 0 0 1 6,0 l-1.300,13.600 h-3.400 z" fill="#e0182c"/>
<circle cx="993.700" cy="594.500" r="2.800" fill="#e0182c"/>
<circle cx="973" cy="624.800" r="7.200" fill="#fff" stroke="#8a8a8a" stroke-width="1.400"/>
</g>


</g>
<!--PB_END-->
<!--PC_START--><g id="panelC">
<defs>
<radialGradient id="pcbg" cx="55%" cy="45%" r="70%"><stop offset="0" stop-color="#fafafa"/><stop offset="0.6" stop-color="#f7f7f7"/><stop offset="1" stop-color="#f2f2f2"/></radialGradient>
<linearGradient id="domeg" x1="0" x2="1" y1="0" y2="0"><stop offset="0" stop-color="#c41c1e"/><stop offset="0.14" stop-color="#dc3234"/><stop offset="0.42" stop-color="#b81618"/><stop offset="0.62" stop-color="#c41e20"/><stop offset="0.82" stop-color="#e04648"/><stop offset="1" stop-color="#c22022"/></linearGradient>
<linearGradient id="domev" x1="0" x2="0" y1="0" y2="1"><stop offset="0" stop-color="#e85050" stop-opacity="0.250"/><stop offset="0.3" stop-color="#c01818" stop-opacity="0"/><stop offset="0.62" stop-color="#8c0c0e" stop-opacity="0.100"/><stop offset="0.75" stop-color="#8c0c0e" stop-opacity="0.550"/><stop offset="1" stop-color="#8c0c0e" stop-opacity="0.650"/></linearGradient>
<linearGradient id="baseg" x1="0" x2="1" y1="0" y2="0"><stop offset="0" stop-color="#d4d4ce"/><stop offset="0.4" stop-color="#e6e6e0"/><stop offset="0.8" stop-color="#e0e0da"/><stop offset="1" stop-color="#cacac4"/></linearGradient>
</defs>
<!-- faint connector lines from panel b -->
<line x1="20.500" y1="766" x2="262" y2="703" stroke="#f1f1f1" stroke-width="1.200"/>
<line x1="581" y1="766" x2="503.500" y2="700" stroke="#f2f2f2" stroke-width="1.200"/>
<rect x="20.500" y="766" width="560.500" height="300.500" fill="url(#pcbg)" stroke="#bdbdbd" stroke-width="1.100" stroke-dasharray="6 3.600"/>
<!-- UHSP disk -->
<circle cx="119.700" cy="936.400" r="33" fill="#838bb3" filter="url(#tex)"/>
<!-- arrows -->
<g stroke="#a3a3a3" stroke-width="3.400" fill="#a3a3a3" stroke-linecap="butt">
<line x1="41.300" y1="868.300" x2="111.500" y2="925.100"/>
</g>
<polygon points="117.400,930 108.200,928.200 113.800,921.300" fill="#a3a3a3"/>
<text transform="translate(29.300,825.800) rotate(42.500)" font-size="18.500" fill="#111">Ambient light</text>
<text x="92" y="1001" class="b" font-size="20.400" fill="#111">UHSP</text>
<!-- PD box -->
<defs><linearGradient id="pdf" x1="0" x2="1" y1="0" y2="0"><stop offset="0" stop-color="#ebebeb"/><stop offset="0.5" stop-color="#f9f9f9"/><stop offset="1" stop-color="#fbfbfb"/></linearGradient>
<linearGradient id="pds" x1="0" x2="0" y1="0" y2="1"><stop offset="0" stop-color="#b4b4b4"/><stop offset="1" stop-color="#9a9a9a"/></linearGradient></defs>
<polygon points="161.300,857.200 237.800,863.200 237.800,906.400 163.900,894.300" fill="url(#pdf)"/>
<polygon points="237.800,863.200 272.800,840.600 273.600,870.900 237.800,906.400" fill="url(#pds)"/>
<polygon points="161.300,857.200 205.400,838.500 272.800,840.600 237.800,863.200" fill="#0a0a0a"/>
<g stroke="#dadada" stroke-width="1.900">
<line x1="240.400" y1="865.700" x2="263.700" y2="852.800"/><line x1="240.400" y1="873.300" x2="263.700" y2="860.500"/><line x1="240.400" y1="880.700" x2="263.700" y2="868.200"/>
</g>
<circle cx="193.700" cy="880.700" r="13" fill="#dcdcdc"/>
<circle cx="193.700" cy="880.700" r="11.300" fill="#ededed"/>
<circle cx="193.700" cy="880.700" r="9.200" fill="#3e3e40"/>
<line x1="127.600" y1="924.100" x2="190.500" y2="882.500" stroke="#a3a3a3" stroke-width="3.500"/>
<polygon points="196.500,878.600 192.300,886.300 187.700,879.300" fill="#c4c4c4"/>
<text x="197" y="929.500" class="b" font-size="20.400" fill="#111">PD</text>
<!-- wires -->
<path d="M252,894 Q268,905 286,903 Q297,902 304,898.500" fill="none" stroke="#a6a6a6" stroke-width="1.150"/>
<path d="M394,893 Q410,892 416,881 Q421,872.500 432,872" fill="none" stroke="#a6a6a6" stroke-width="1.150"/>
<path d="M394,965 Q416,962 424,982 Q432,1002 448.500,1005" fill="none" stroke="#a6a6a6" stroke-width="1.150"/>
<!-- MCU -->
<rect x="304" y="886.800" width="99.300" height="85" fill="#c9c9c9"/>
<g fill="#fafafa"><circle cx="312" cy="893" r="3.400"/><circle cx="393.700" cy="893" r="3.400"/><circle cx="312" cy="965" r="3.400"/><circle cx="393.700" cy="965" r="3.400"/></g>
<text x="351" y="941.500" class="b" font-size="20.400" fill="#111" text-anchor="middle">MCU</text>
<!-- alarm lamp -->
<rect x="426" y="799" width="59" height="92" rx="13" fill="#f4c2c3" filter="url(#blur4)"/>
<path d="M432.300,864 h45.800 v11.500 q0,9.700 -22.900,9.700 q-22.900,0 -22.900,-9.700 z" fill="url(#baseg)"/>
<path d="M431.500,866 V818 Q431.500,807.500 455.200,807.500 Q478.900,807.500 478.900,818 V866 Q455.200,873 431.500,866 Z" fill="url(#domeg)"/>
<path d="M431.500,866 V818 Q431.500,807.500 455.200,807.500 Q478.900,807.500 478.900,818 V866 Q455.200,873 431.500,866 Z" fill="url(#domev)"/>
<ellipse cx="455.200" cy="813.500" rx="21" ry="4.500" fill="#e8585c" opacity="0.450"/>
<rect x="473.500" y="868" width="3.600" height="10.500" fill="#f2f2ee"/>
<rect x="445.500" y="884.500" width="1.800" height="3.200" fill="#c0c0bc"/>
<!-- speaker -->
<path d="M494.900,843.300 h10 l9.900,-7.800 v27.600 l-9.900,-8.100 h-10 z" fill="#cb0000"/>
<g fill="none" stroke="#cb0000" stroke-linecap="butt">
<path d="M518.100,836.500 A18.600,18.600 0 0 1 518.100,861" stroke-width="4.500"/>
<path d="M522.300,831.300 A24.300,24.300 0 0 1 522.600,867.100" stroke-width="4.500"/>
<path d="M528,826.700 A31.900,31.900 0 0 1 528.600,871.900" stroke-width="4.800"/>
</g>
<text x="485" y="920.500" class="b" font-size="20.400" fill="#111" text-anchor="middle">Alarm</text>
<!-- wifi black -->
<circle cx="468.800" cy="997.900" r="3" fill="#0a0a0a"/>
<g fill="none" stroke="#0a0a0a" stroke-width="4.800" stroke-linecap="butt">
<path d="M462.1,991.4 A9.3,9.3 0 0 1 475.5,991.4"/>
<path d="M457.4,986.1 A16.4,16.4 0 0 1 480.2,986.1"/>
<path d="M453.1,980.4 A23.5,23.5 0 0 1 484.5,980.4"/>
</g>
</g>
<!--PC_END-->
<!--PD_START--><g id="panelD">
<defs>
<linearGradient id="arL" x1="0" x2="1" y1="0" y2="0"><stop offset="0" stop-color="#4a74c9"/><stop offset="0.35" stop-color="#7a98d8"/><stop offset="1" stop-color="#f4f5f9" stop-opacity="0.2"/></linearGradient>
<linearGradient id="arR" x1="0" x2="1" y1="0" y2="0"><stop offset="0" stop-color="#f4f5f9" stop-opacity="0.1"/><stop offset="0.6" stop-color="#7a98d8"/><stop offset="1" stop-color="#4a74c9"/></linearGradient>
<linearGradient id="arD" x1="0" x2="0" y1="0" y2="1"><stop offset="0" stop-color="#f0f1f6" stop-opacity="0.1"/><stop offset="0.55" stop-color="#8aa4dd"/><stop offset="1" stop-color="#4a74c9"/></linearGradient>
<linearGradient id="arDL" gradientUnits="userSpaceOnUse" x1="890" y1="914" x2="864" y2="966"><stop offset="0" stop-color="#eceef5" stop-opacity="0.2"/><stop offset="0.55" stop-color="#8aa4dd"/><stop offset="1" stop-color="#4a74c9"/></linearGradient>
<linearGradient id="arDR" gradientUnits="userSpaceOnUse" x1="982" y1="914" x2="1012" y2="966"><stop offset="0" stop-color="#eceef5" stop-opacity="0.2"/><stop offset="0.55" stop-color="#8aa4dd"/><stop offset="1" stop-color="#4a74c9"/></linearGradient>
<filter id="sh2" x="-5%" y="-8%" width="112%" height="125%"><feGaussianBlur in="SourceAlpha" stdDeviation="1.6"/><feOffset dx="1.5" dy="2"/><feComponentTransfer><feFuncA type="linear" slope="0.38"/></feComponentTransfer><feMerge><feMergeNode/><feMergeNode in="SourceGraphic"/></feMerge></filter>
</defs>
<rect x="600.500" y="766" width="454.800" height="297.700" fill="#f8f8f8" stroke="#bdbdbd" stroke-width="1.100" stroke-dasharray="6 3.600"/>
<!-- boxes -->
<rect x="623" y="815" width="108" height="72" rx="11" fill="#e5e5e5"/>
<rect x="855.500" y="793" width="173.500" height="120.600" rx="20" fill="#e3e3e3"/>
<rect x="869" y="842.800" width="147" height="57" rx="8" fill="#c8d2e3" filter="url(#sh2)"/>
<circle cx="681.800" cy="1005.800" r="36.400" fill="#dedede"/>
<rect x="807" y="967" width="106" height="71.300" rx="11" fill="#e5e5e5"/>
<rect x="941" y="969" width="107.500" height="71" rx="11" fill="#e5e5e5"/>
<!-- arrows -->
<path d="M741,851.500 L754.500,839.500 V844.200 H812 V859.200 H754.500 V864 Z" fill="url(#arL)"/>
<path d="M843,868.300 L828.500,855.800 V861 H780 V875.500 H828.500 V881 Z" fill="url(#arR)"/>
<path d="M678,896 H690 V950.500 H695.700 L683.700,963.800 L671.700,950.500 H678 Z" fill="url(#arD)"/>
<path d="M883.500,913 L896.500,919.500 L878,955.500 L883.500,958.300 L862.500,967 L861.300,947 L866.300,949.600 Z" fill="url(#arDL)"/>
<path d="M976,919.500 L989,913 L1009,949.500 L1014.200,946.800 L1013.500,968 L992.500,958.600 L997.700,955.800 Z" fill="url(#arDR)"/>
<!-- text -->
<g class="b" font-size="21" fill="#111" text-anchor="middle">
<text x="677" y="844">Color</text>
<text x="677.500" y="869.500">sensor</text>
<text x="942.500" y="828">MCU</text>
<text x="681" y="1015.500">UHSP</text>
<text x="862.500" y="1012">Alarm</text>
<text x="995.500" y="997">Mobile</text>
<text x="995.500" y="1022.500">terminal</text>
</g>
<g font-size="18.500" fill="#111" text-anchor="middle">
<text x="942" y="867">Signal</text>
<text x="942" y="889">acquisition</text>
</g>
<g font-size="20.600" fill="#111">
<text x="759.500" y="838.500">control</text>
<text x="750" y="902">feedback</text>
<text transform="translate(666.500,961) rotate(-90)">monitor</text>
</g>
</g>
<!--PD_END-->
</svg>
</body></html>
